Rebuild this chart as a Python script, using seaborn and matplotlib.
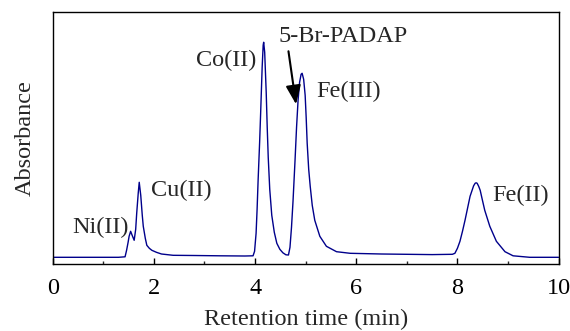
import numpy as np
import matplotlib
matplotlib.use("Agg")
import matplotlib.pyplot as plt
import seaborn as sns

# Cromatograma: tiempo (min) y absorbancia (u.a.)
time_min = [0.00, 0.50, 1.00, 1.30, 1.43, 1.46, 1.49, 1.51, 1.54, 1.57, 1.61, 1.64,
            1.66, 1.69, 1.71, 1.74, 1.77, 1.79, 1.83, 1.86, 1.91, 1.96, 2.05, 2.15,
            2.38, 2.80, 3.30, 3.80, 3.96, 3.99, 4.02, 4.04, 4.06, 4.09, 4.11, 4.14,
            4.16, 4.17, 4.19, 4.22, 4.24, 4.26, 4.29, 4.33, 4.38, 4.43, 4.49, 4.55,
            4.61, 4.66, 4.69, 4.72, 4.75, 4.79, 4.82, 4.85, 4.88, 4.91, 4.93, 4.96,
            4.99, 5.01, 5.03, 5.06, 5.09, 5.13, 5.18, 5.28, 5.41, 5.61, 5.88, 6.50,
            7.00, 7.50, 7.90, 7.95, 8.00, 8.05, 8.10, 8.15, 8.20, 8.25, 8.29, 8.32,
            8.35, 8.37, 8.39, 8.42, 8.45, 8.49, 8.54, 8.64, 8.77, 8.94, 9.10, 9.43,
            10.00]
absorbance = [0.0, 0.0, 0.0, 0.0, 0.5, 7, 15, 21, 26, 22, 17, 28,
              44, 64, 75, 62, 42, 31, 19, 12, 9, 7, 5, 3.3,
              2.0, 1.8, 1.5, 1.3, 1.5, 6, 24, 48, 77, 115, 144, 190,
              212, 215, 205, 165, 130, 100, 68, 42, 25, 14, 8, 4.5,
              2.5, 2.3, 10, 30, 56, 97, 130, 157, 175, 183, 184, 178,
              162, 140, 114, 88, 71, 52, 37, 21, 11, 5.6, 4.0, 3.3,
              3.0, 2.7, 3.0, 4.0, 9, 16, 26, 37, 49, 61, 67, 71.5,
              74, 74.5, 74, 71, 67, 58, 47, 31, 16, 5.6, 1.5, 0.0,
              0.0]
absorbance = [a / 1000 for a in absorbance]

# Etiquetas de los picos
peak_labels = ["Ni(II)", "Cu(II)", "Co(II)", "Fe(III)", "Fe(II)"]
label_t = [0.95, 2.55, 3.42, 5.85, 9.24]
label_a = [0.030, 0.067, 0.197, 0.166, 0.062]

reagent_label = "5-Br-PADAP"
reagent_xy = (5.74, 0.221)
arrow_tail = (4.66, 0.206)
arrow_head = (4.81, 0.153)

sns.set_theme(style="ticks")
plt.rcParams["font.family"] = ["Liberation Serif", "DejaVu Serif"]
fs = 17.5

fig = plt.figure(figsize=(5.7, 3.31), dpi=100)
ax = fig.add_axes([0.0925, 0.2024, 0.980 - 0.0925, 0.963 - 0.2024])

sns.lineplot(x=time_min, y=absorbance, color="#00008B", linewidth=1.0,
             estimator=None, sort=False, ax=ax)

for lab, t, a in zip(peak_labels, label_t, label_a):
    ax.text(t, a, lab, ha="center", va="center", fontsize=fs)

ax.text(reagent_xy[0], reagent_xy[1], reagent_label, ha="center", va="center",
        fontsize=fs)
ax.annotate("", xy=arrow_head, xytext=arrow_tail,
            arrowprops=dict(arrowstyle="-|>,head_length=0.95,head_width=0.38",
                            color="black", lw=1.5, shrinkA=0, shrinkB=0))

ax.set_xlim(0, 10)
ax.set_ylim(-0.0067, 0.245)
ax.set_xticks([0, 2, 4, 6, 8, 10])
ax.set_xticks([1, 3, 5, 7, 9], minor=True)
ax.set_yticks([])
ax.tick_params(axis="x", which="major", direction="in", length=4, width=1,
               labelsize=fs, pad=10, colors="black")
ax.tick_params(axis="x", which="minor", direction="in", length=2.5, width=1)
for s in ax.spines.values():
    s.set_visible(True)
    s.set_color("black")
    s.set_linewidth(1)

ax.set_xlabel("Retention time (min)", fontsize=fs, labelpad=7)
ax.set_ylabel("Absorbance", fontsize=fs, labelpad=12)

fig.savefig("out.png", dpi=100)
